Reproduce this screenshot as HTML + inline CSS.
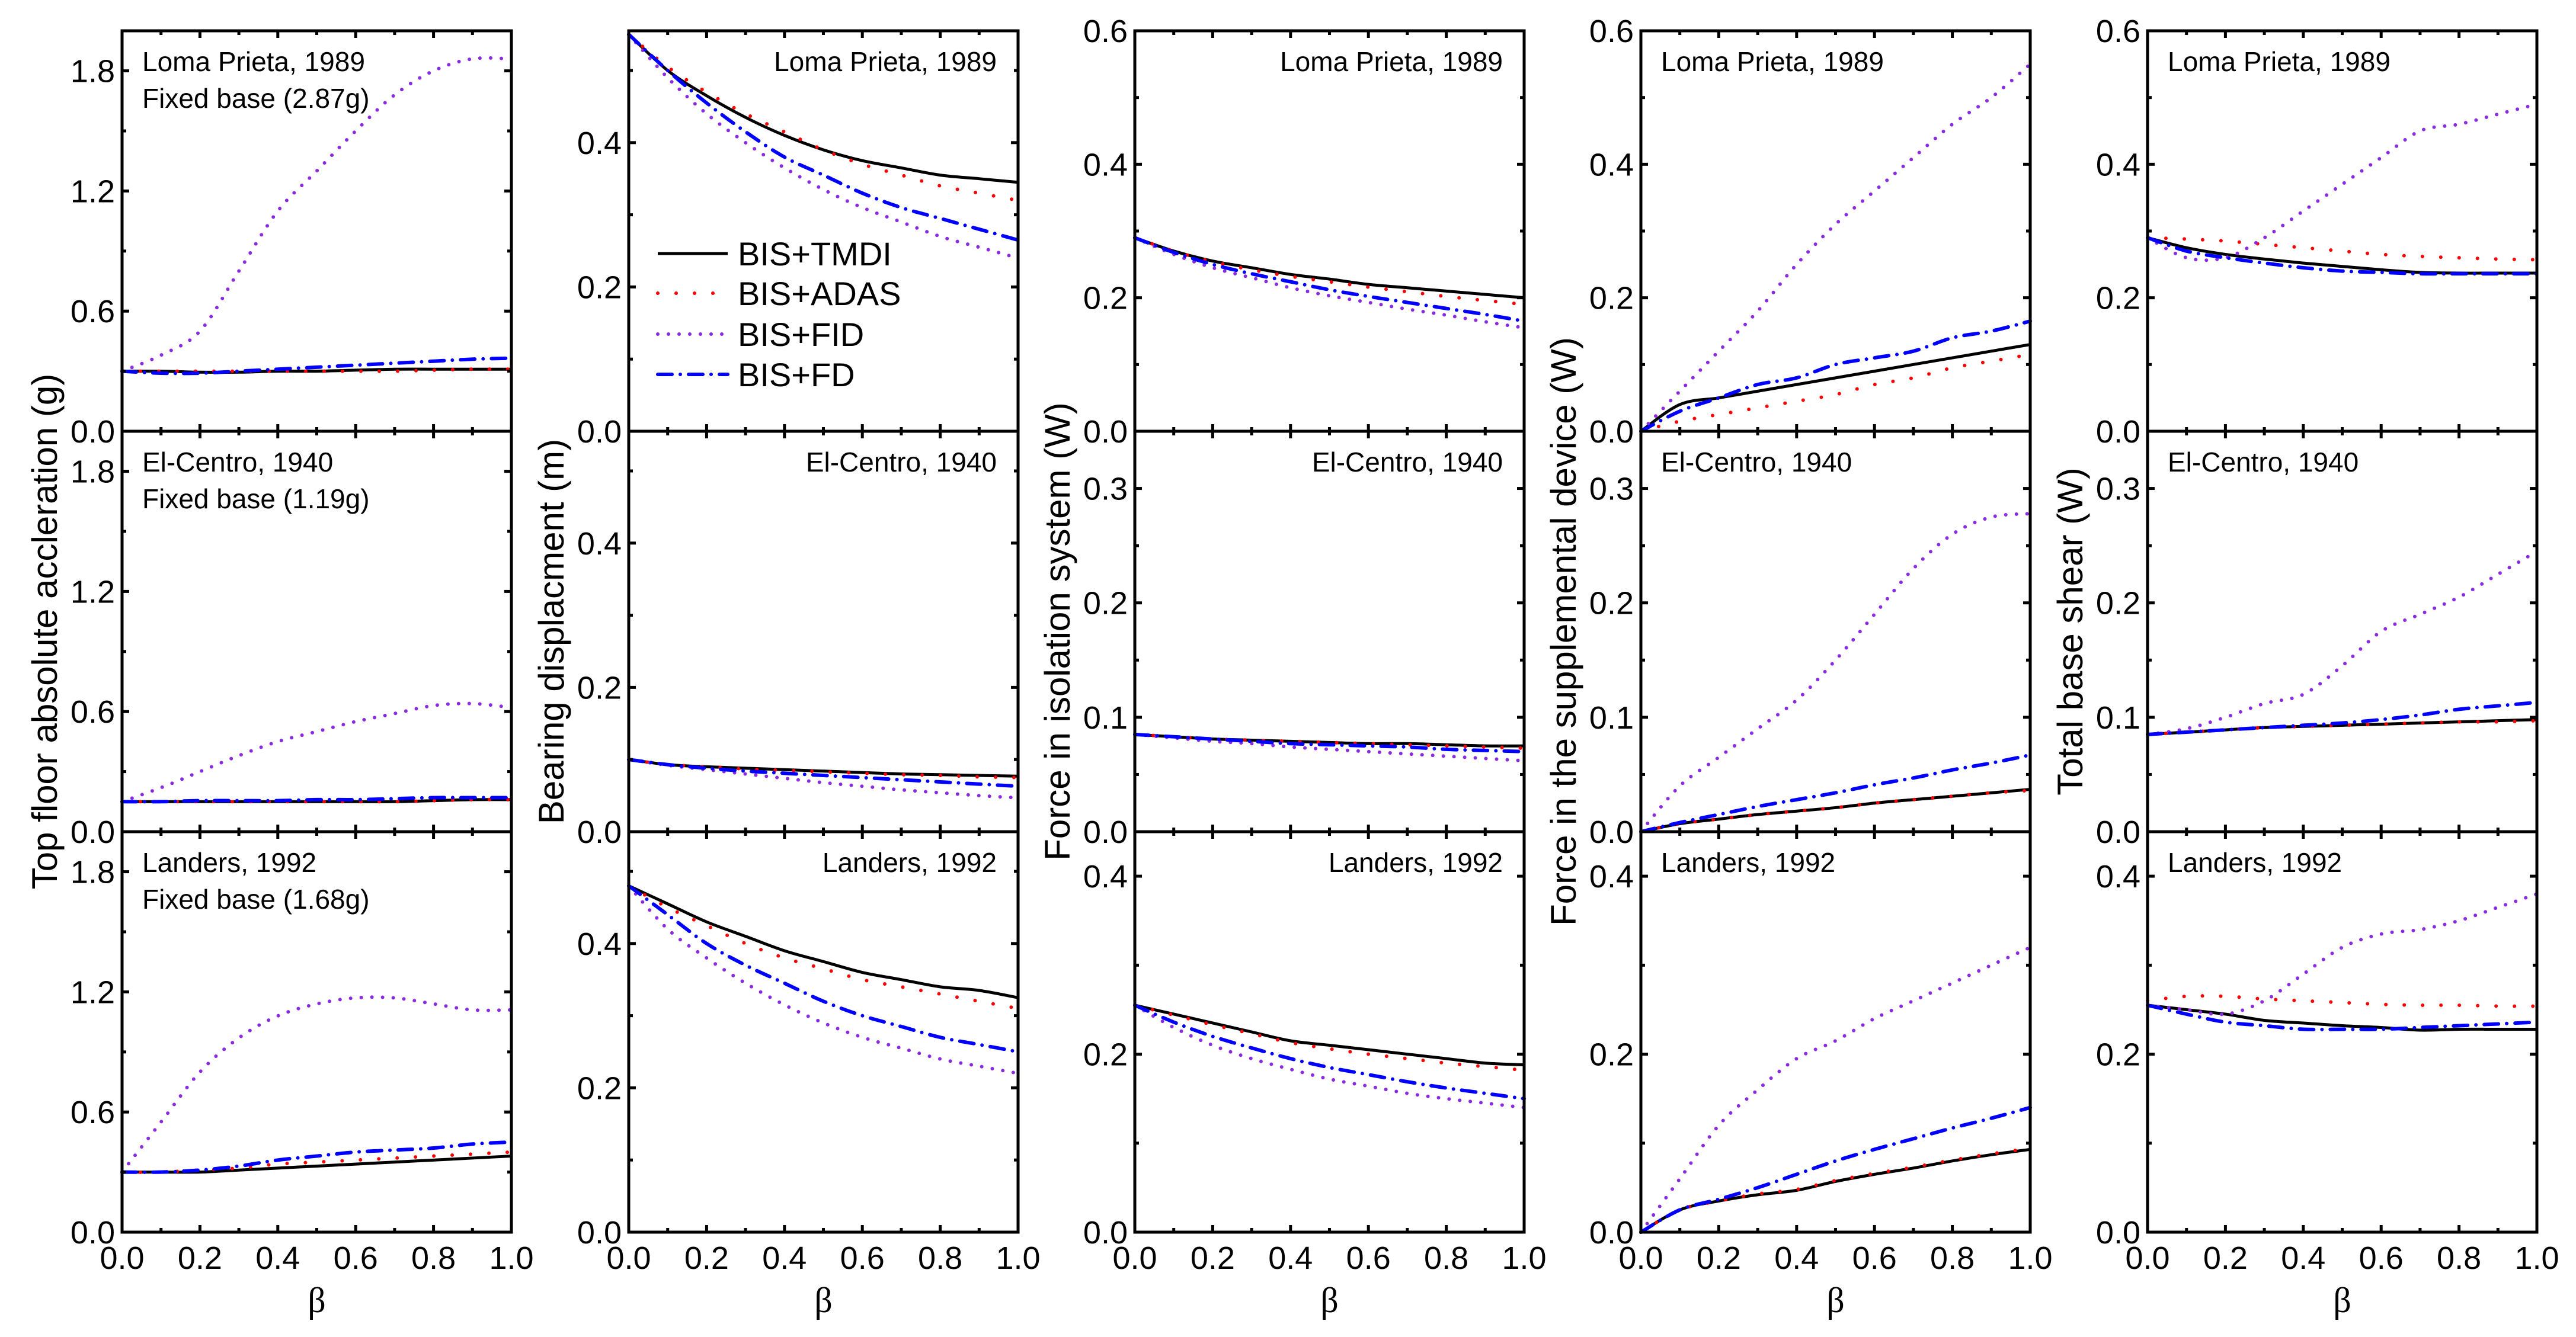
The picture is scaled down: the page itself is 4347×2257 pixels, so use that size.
<!DOCTYPE html>
<html><head><meta charset="utf-8"><style>
html,body{margin:0;padding:0;background:#fff;}
svg{display:block;font-family:"Liberation Sans",Arial,sans-serif;}
</style></head><body>
<svg id="fig" width="4347" height="2257" viewBox="0 0 4347 2257" xmlns="http://www.w3.org/2000/svg"></svg>
<script>
const betas=[0,0.1,0.2,0.3,0.4,0.5,0.6,0.7,0.8,0.9,1.0];
const seriesNames=["BIS+TMDI","BIS+ADAS","BIS+FID","BIS+FD"];
const rowTitles=["Loma Prieta, 1989","El-Centro, 1940","Landers, 1992"];
const fixedBase=["Fixed base (2.87g)","Fixed base (1.19g)","Fixed base (1.68g)"];
const colTitles=["Top floor absolute accleration (g)","Bearing displacment (m)","Force in isolation system (W)","Force in the supplemental device (W)","Total base shear (W)"];
const xTicks=[0,0.2,0.4,0.6,0.8,1.0];
const xTickLabels=["0.0","0.2","0.4","0.6","0.8","1.0"];
// y ranges [col][row]
const yMax=[[2.0,2.0,2.0],[0.555,0.555,0.555],[0.6,0.35,0.45],[0.6,0.35,0.45],[0.6,0.35,0.45]];
const yTicks=[[[0,0.6,1.2,1.8],[0,0.6,1.2,1.8],[0,0.6,1.2,1.8]],
 [[0,0.2,0.4],[0,0.2,0.4],[0,0.2,0.4]],
 [[0,0.2,0.4,0.6],[0,0.1,0.2,0.3],[0,0.2,0.4]],
 [[0,0.2,0.4,0.6],[0,0.1,0.2,0.3],[0,0.2,0.4]],
 [[0,0.2,0.4,0.6],[0,0.1,0.2,0.3],[0,0.2,0.4]]];
const yMinorStep=[[0.3,0.3,0.3],[0.1,0.1,0.1],[0.1,0.05,0.1],[0.1,0.05,0.1],[0.1,0.05,0.1]];
const yLabelDigits=1;
// Data: [col][row][series] series order TMDI, ADAS, FID, FD
const c1r1=[[0.30,0.30,0.295,0.295,0.30,0.30,0.305,0.31,0.31,0.31,0.31],[0.30,0.30,0.30,0.30,0.30,0.30,0.30,0.30,0.305,0.31,0.31],[0.30,0.38,0.50,0.80,1.10,1.30,1.50,1.68,1.80,1.86,1.86],[0.30,0.29,0.29,0.30,0.31,0.32,0.33,0.34,0.35,0.36,0.365]];
const c1r2=[[0.15,0.15,0.15,0.15,0.15,0.15,0.15,0.15,0.155,0.16,0.16],[0.15,0.15,0.15,0.15,0.15,0.15,0.15,0.15,0.155,0.16,0.16],[0.15,0.22,0.30,0.38,0.45,0.50,0.55,0.59,0.63,0.64,0.62],[0.15,0.15,0.155,0.155,0.155,0.16,0.16,0.165,0.17,0.17,0.17]];
const c1r3=[[0.30,0.30,0.30,0.31,0.32,0.33,0.34,0.35,0.36,0.37,0.38],[0.30,0.30,0.31,0.32,0.34,0.35,0.36,0.37,0.38,0.39,0.40],[0.30,0.55,0.80,0.97,1.08,1.14,1.17,1.17,1.14,1.11,1.11],[0.30,0.30,0.31,0.33,0.36,0.38,0.40,0.41,0.42,0.44,0.45]];
const c2r1=[[0.55,0.50,0.465,0.435,0.41,0.39,0.375,0.365,0.355,0.35,0.345],[0.55,0.505,0.47,0.44,0.415,0.39,0.37,0.355,0.34,0.33,0.32],[0.55,0.49,0.44,0.40,0.365,0.335,0.31,0.29,0.27,0.255,0.24],[0.55,0.50,0.455,0.415,0.38,0.355,0.33,0.31,0.295,0.28,0.265]];
const c2r2=[[0.10,0.093,0.09,0.088,0.086,0.084,0.082,0.080,0.079,0.078,0.077],[0.10,0.093,0.09,0.087,0.085,0.083,0.081,0.079,0.078,0.076,0.075],[0.10,0.092,0.086,0.08,0.074,0.068,0.063,0.058,0.054,0.05,0.047],[0.10,0.093,0.088,0.084,0.081,0.078,0.075,0.072,0.069,0.066,0.063]];
const c2r3=[[0.48,0.455,0.43,0.41,0.39,0.375,0.36,0.35,0.34,0.335,0.325],[0.48,0.45,0.425,0.40,0.38,0.365,0.35,0.34,0.33,0.32,0.31],[0.48,0.42,0.38,0.345,0.315,0.29,0.27,0.255,0.24,0.23,0.22],[0.48,0.44,0.40,0.37,0.345,0.32,0.30,0.285,0.27,0.26,0.25]];
const c3r1=[[0.29,0.27,0.255,0.245,0.235,0.228,0.22,0.215,0.21,0.205,0.20],[0.29,0.27,0.254,0.242,0.232,0.224,0.216,0.209,0.202,0.196,0.19],[0.29,0.265,0.245,0.23,0.215,0.203,0.193,0.183,0.174,0.164,0.155],[0.29,0.268,0.25,0.236,0.224,0.212,0.202,0.193,0.184,0.175,0.165]];
const c3r2=[[0.085,0.083,0.081,0.08,0.079,0.078,0.077,0.077,0.076,0.075,0.075],[0.085,0.083,0.081,0.08,0.079,0.078,0.077,0.076,0.075,0.074,0.073],[0.085,0.082,0.079,0.077,0.074,0.072,0.07,0.068,0.066,0.064,0.062],[0.085,0.083,0.081,0.079,0.077,0.076,0.075,0.074,0.072,0.071,0.07]];
const c3r3=[[0.255,0.245,0.235,0.225,0.215,0.21,0.205,0.20,0.195,0.19,0.188],[0.255,0.244,0.233,0.223,0.213,0.206,0.2,0.195,0.19,0.186,0.182],[0.255,0.23,0.21,0.195,0.183,0.172,0.164,0.156,0.15,0.145,0.14],[0.255,0.236,0.22,0.207,0.195,0.185,0.177,0.169,0.162,0.156,0.15]];
const c4r1=[[0,0.04,0.05,0.06,0.07,0.08,0.09,0.10,0.11,0.12,0.13],[0,0.015,0.025,0.035,0.045,0.055,0.07,0.08,0.095,0.105,0.115],[0,0.06,0.12,0.18,0.25,0.31,0.36,0.41,0.46,0.50,0.55],[0,0.03,0.05,0.07,0.08,0.10,0.11,0.12,0.14,0.15,0.165]];
const c4r2=[[0,0.007,0.011,0.015,0.018,0.021,0.025,0.028,0.031,0.034,0.037],[0,0.007,0.011,0.015,0.018,0.021,0.025,0.028,0.031,0.034,0.036],[0,0.04,0.065,0.09,0.115,0.15,0.19,0.23,0.26,0.275,0.278],[0,0.008,0.015,0.022,0.028,0.034,0.041,0.047,0.054,0.060,0.067]];
const c4r3=[[0,0.025,0.035,0.042,0.047,0.057,0.065,0.072,0.08,0.087,0.093],[0,0.025,0.035,0.043,0.048,0.058,0.066,0.073,0.081,0.088,0.094],[0,0.06,0.12,0.16,0.195,0.215,0.24,0.26,0.28,0.30,0.32],[0,0.025,0.037,0.05,0.065,0.08,0.093,0.105,0.117,0.128,0.14]];
const c5r1=[[0.29,0.275,0.265,0.258,0.252,0.247,0.242,0.238,0.237,0.237,0.237],[0.29,0.288,0.285,0.28,0.275,0.27,0.265,0.262,0.26,0.258,0.257],[0.29,0.26,0.26,0.29,0.33,0.37,0.41,0.45,0.46,0.475,0.49],[0.29,0.27,0.26,0.252,0.245,0.24,0.238,0.236,0.236,0.236,0.236]];
const c5r2=[[0.085,0.087,0.089,0.091,0.092,0.093,0.094,0.095,0.096,0.097,0.098],[0.085,0.087,0.089,0.091,0.092,0.093,0.094,0.095,0.096,0.096,0.097],[0.085,0.09,0.10,0.112,0.12,0.145,0.175,0.19,0.205,0.225,0.245],[0.085,0.087,0.089,0.091,0.093,0.095,0.098,0.102,0.107,0.11,0.113]];
const c5r3=[[0.255,0.25,0.245,0.238,0.235,0.232,0.23,0.227,0.228,0.228,0.228],[0.26,0.265,0.265,0.262,0.26,0.258,0.256,0.255,0.255,0.254,0.254],[0.255,0.25,0.245,0.26,0.29,0.32,0.335,0.34,0.35,0.365,0.38],[0.255,0.245,0.236,0.232,0.228,0.228,0.228,0.23,0.232,0.234,0.236]];
const allData=[[c1r1,c1r2,c1r3],[c2r1,c2r2,c2r3],[c3r1,c3r2,c3r3],[c4r1,c4r2,c4r3],[c5r1,c5r2,c5r3]];

const NS="http://www.w3.org/2000/svg";
const svg=document.getElementById('fig');
const colLeft=[206,1061,1915,2769,3624], PW=657;
const rowTop=[52,728,1404], PH=676;
const styles=[
 {stroke:"#000",w:5,dash:null,cap:"butt"},
 {stroke:"#ff0000",w:6,dash:"0 31",cap:"round"},
 {stroke:"#8a2be2",w:6,dash:"0 18",cap:"round"},
 {stroke:"#0000ff",w:6,dash:"24 14 0 14",cap:"round"}];
function el(tag,attrs,parent){const e=document.createElementNS(NS,tag);for(const k in attrs)e.setAttribute(k,attrs[k]);(parent||svg).appendChild(e);return e;}
function smooth(pts){let d=`M${pts[0][0]},${pts[0][1]}`;for(let i=0;i<pts.length-1;i++){const p0=pts[Math.max(0,i-1)],p1=pts[i],p2=pts[i+1],p3=pts[Math.min(pts.length-1,i+2)];const c1=[p1[0]+(p2[0]-p0[0])/6,p1[1]+(p2[1]-p0[1])/6],c2=[p2[0]-(p3[0]-p1[0])/6,p2[1]-(p3[1]-p1[1])/6];d+=` C${c1[0]},${c1[1]} ${c2[0]},${c2[1]} ${p2[0]},${p2[1]}`;}return d;}

for(let c=0;c<5;c++){
 const L=colLeft[c];
 for(let r=0;r<3;r++){
  const T=rowTop[r], B=T+PH, ym=yMax[c][r];
  const xs=v=>L+v*PW, ys=v=>B-v/ym*PH;
  const g=el('g',{});
  
  
  // series
  const data=allData[c][r];
  for(let s=0;s<4;s++){
   const pts=betas.map((b,i)=>[xs(b),ys(data[s][i])]);
   const p=el('path',{d:smooth(pts),fill:"none",stroke:styles[s].stroke,"stroke-width":styles[s].w,"stroke-linecap":styles[s].cap},g);
   if(styles[s].dash)p.setAttribute('stroke-dasharray',styles[s].dash);
   
   
  }
  // x ticks
  for(let i=0;i<=10;i++){const x=xs(i/10),len=i%2?7:12;
   el('line',{x1:x,x2:x,y1:B,y2:B-len,stroke:"#000","stroke-width":5},g);
   el('line',{x1:x,x2:x,y1:T,y2:T+len,stroke:"#000","stroke-width":5},g);}
  // y ticks
  const st=yMinorStep[c][r];
  for(let k=0;k*st<=ym+1e-9;k++){const v=k*st,y=ys(v);const major=yTicks[c][r].some(t=>Math.abs(t-v)<1e-9);const len=major?12:7;
   el('line',{x1:L,x2:L+len,y1:y,y2:y,stroke:"#000","stroke-width":5},g);
   el('line',{x1:L+PW,x2:L+PW-len,y1:y,y2:y,stroke:"#000","stroke-width":5},g);}
  yTicks[c][r].forEach(v=>{const t=el('text',{x:L-12,y:ys(v)+19,"font-size":54,"text-anchor":"end",fill:"#000"},g);t.textContent=v.toFixed(yLabelDigits);
   });
  // frame
  const f=el('rect',{x:L,y:T,width:PW,height:PH,fill:"none",stroke:"#000","stroke-width":5},g);
  // annotation
  const right=(c===1||c===2);
  const ax=right?L+PW-36:L+34;
  const a=el('text',{x:ax,y:T+68,"font-size":46,"text-anchor":right?"end":"start"},g);a.textContent=rowTitles[r];
  
  if(c===0){const a2=el('text',{x:ax,y:T+130,"font-size":46},g);a2.textContent=fixedBase[r];
   }
 }
 // x tick labels
 xTicks.forEach((v,i)=>{const t=el('text',{x:L+v*PW,y:2142,"font-size":54,"text-anchor":"middle"});t.textContent=xTickLabels[i];
  });
 const xb=el('text',{x:L+PW/2,y:2215,"font-size":60,"text-anchor":"middle","font-family":"Liberation Serif, serif"});xb.textContent="β";
 
 const yt=el('text',{x:0,y:0,"font-size":60,"text-anchor":"middle",transform:`translate(${L-110},1066) rotate(-90)`});yt.textContent=colTitles[c];
 
}
// legend
const lg=el('g',{});


const legY=[428,495,564,632];
for(let s=0;s<4;s++){
 const l=el('line',{x1:1110,x2:1228,y1:legY[s],y2:legY[s],stroke:styles[s].stroke,"stroke-width":styles[s].w,"stroke-linecap":styles[s].cap},lg);
 if(styles[s].dash)l.setAttribute('stroke-dasharray',styles[s].dash);
 const t=el('text',{x:1245,y:legY[s]+20,"font-size":56},lg);t.textContent=seriesNames[s];
 
}
</script>
</body></html>
